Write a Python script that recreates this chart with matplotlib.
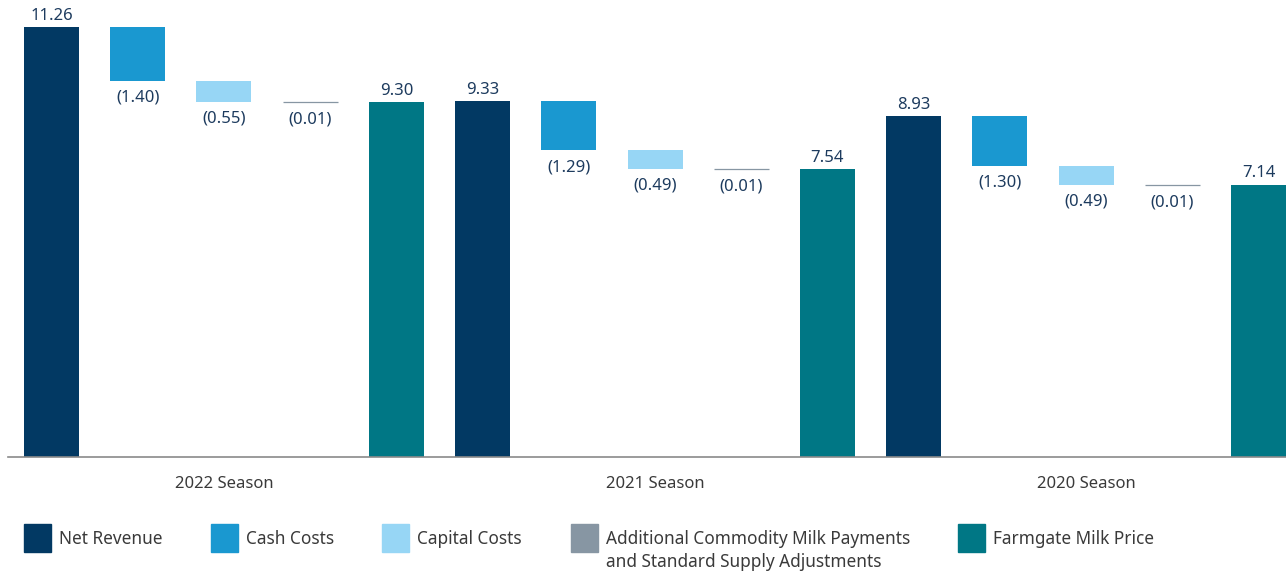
import matplotlib
matplotlib.use("Agg")
import matplotlib.pyplot as plt
from matplotlib.patches import Rectangle

plt.rcParams['font.family'] = ['Noto Sans', 'DejaVu Sans']

seasons = ["2022 Season", "2021 Season", "2020 Season"]
net_revenue = [11.26, 9.33, 8.93]
cash_costs = [-1.40, -1.29, -1.30]
capital_costs = [-0.55, -0.49, -0.49]
additional = [-0.01, -0.01, -0.01]
farmgate = [9.30, 7.54, 7.14]

legend_labels = ["Net Revenue", "Cash Costs", "Capital Costs",
                 "Additional Commodity Milk Payments\nand Standard Supply Adjustments",
                 "Farmgate Milk Price"]
colors = ["#023963", "#1a98d0", "#97d6f5", "#8796a3", "#007785"]
label_color = "#1d3b5e"
text_color = "#3a3a3a"

W, H = 1286, 573
fig = plt.figure(figsize=(W / 100, H / 100), dpi=100)
ax = fig.add_axes([8 / W, 116 / H, 1 - 8 / W, (457 - 0) / H])

bw = 0.638
fs = 12
pos = 0
for s in range(3):
    ax.bar(pos, net_revenue[s], width=bw, color=colors[0])
    ax.annotate(f"{net_revenue[s]:.2f}", (pos, net_revenue[s]), xytext=(0, 2.5),
                textcoords="offset points", ha="center", va="bottom",
                fontsize=fs, color=label_color)
    running = net_revenue[s]
    for k, vals in enumerate([cash_costs, capital_costs, additional], start=1):
        pos += 1
        v = vals[s]
        if k == 3:
            ax.bar(pos, v, bottom=running, width=bw, color=colors[k],
                   edgecolor=colors[k], linewidth=0.9)
        else:
            ax.bar(pos, v, bottom=running, width=bw, color=colors[k], linewidth=0)
        running += v
        ax.annotate(f"({abs(v):.2f})", (pos, running), xytext=(0, -6.5),
                    textcoords="offset points", ha="center", va="top",
                    fontsize=fs, color=label_color)
    pos += 1
    ax.bar(pos, farmgate[s], width=bw, color=colors[4])
    ax.annotate(f"{farmgate[s]:.2f}", (pos, farmgate[s]), xytext=(0, 2.5),
                textcoords="offset points", ha="center", va="bottom",
                fontsize=fs, color=label_color)
    pos += 1

ax.set_xlim(-0.505, 14.319)
ax.set_ylim(0, 457 / 38.15)
for sp in ["top", "right", "left"]:
    ax.spines[sp].set_visible(False)
ax.spines["bottom"].set_color("#8a8a8a")
ax.spines["bottom"].set_linewidth(1.2)
ax.set_yticks([])
ax.set_xticks([2, 7, 12])
ax.set_xticklabels(seasons, fontsize=fs, color=text_color)
ax.tick_params(axis="x", length=0, pad=14)

# legend
leg_x = [24, 211, 382, 571, 958]
for i, (lx, lab) in enumerate(zip(leg_x, legend_labels)):
    fig.patches.append(Rectangle((lx / W, (H - 552) / H), 27 / W, 28 / H,
                                 transform=fig.transFigure, color=colors[i]))
    lines = lab.split("\n")
    fig.text((lx + 35) / W, (H - 539) / H, lines[0],
             fontsize=12.4, color=text_color, va="center", ha="left")
    if len(lines) > 1:
        fig.text((lx + 35) / W, (H - 562) / H, lines[1],
                 fontsize=12.4, color=text_color, va="center", ha="left")

fig.savefig("out.png", dpi=100)
